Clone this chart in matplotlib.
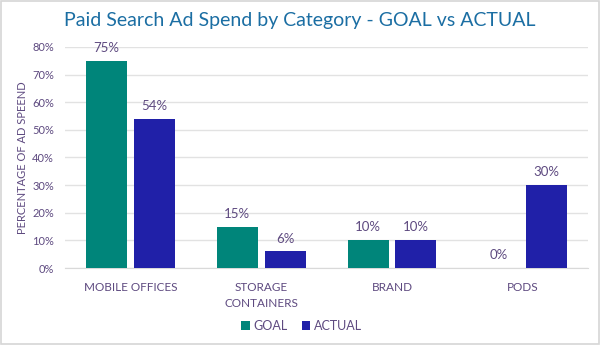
import matplotlib.pyplot as plt
import numpy as np
from matplotlib.patches import Rectangle

categories = ['MOBILE OFFICES', 'STORAGE\nCONTAINERS', 'BRAND', 'PODS']
goal = [75, 15, 10, 0]
actual = [54, 6, 10, 30]
y_ticks = [0, 10, 20, 30, 40, 50, 60, 70, 80]

teal = '#00857A'
navy = '#2020A8'
purple = '#5E4A80'
title_blue = '#1B6EA3'

plt.rcParams['font.family'] = ['Lato', 'DejaVu Sans']

fig = plt.figure(figsize=(6, 3.45), dpi=100)
ax = fig.add_axes([0.1083, 0.223, 0.872, 0.641])

x = np.arange(len(categories))
w = 0.314
off = 0.183
b1 = ax.bar(x - off, goal, w, color=teal, label='GOAL', zorder=3)
b2 = ax.bar(x + off, actual, w, color=navy, label='ACTUAL', zorder=3)

for bars, vals in ((b1, goal), (b2, actual)):
    for bar, v in zip(bars, vals):
        ax.annotate(f'{v}%', (bar.get_x() + bar.get_width() / 2, v),
                    xytext=(0, 5), textcoords='offset points',
                    ha='center', va='bottom', fontsize=9.5, color=purple)

ax.set_xlim(-0.5, len(categories) - 0.5)
ax.set_ylim(0, 80)
ax.set_yticks(y_ticks)
ax.set_yticklabels([f'{t}%' for t in y_ticks], fontsize=8, color=purple)
ax.set_xticks(x)
ax.set_xticklabels(categories, fontsize=8.5, color=purple, linespacing=1.6)
ax.tick_params(axis='x', length=0, pad=10)
ax.tick_params(axis='y', length=0, pad=8)
ax.grid(axis='y', color='#E2E2E2', linewidth=1, zorder=0)
for s in ['top', 'right', 'left']:
    ax.spines[s].set_visible(False)
ax.spines['bottom'].set_color('#D9D9D9')

ax.set_ylabel('PERCENTAGE OF AD SPEEND', fontsize=8, color=purple)
ax.yaxis.set_label_coords(-0.07, 0.5)

fig.text(0.5, 0.94, 'Paid Search Ad Spend by Category - GOAL vs ACTUAL',
         ha='center', va='center', fontsize=14, color=title_blue)

fig.legend(handles=[b1, b2], loc='center', bbox_to_anchor=(0.503, 0.055),
           ncol=2, frameon=False, fontsize=9, labelcolor=purple,
           handlelength=0.7, handleheight=0.7, handletextpad=0.3,
           columnspacing=1.1)

# light frame around the whole chart
fig.patches.append(Rectangle((0.002, 0.003), 0.996, 0.994, transform=fig.transFigure,
                             fill=False, edgecolor='#D6D6D6', linewidth=1.2))

fig.savefig('out.png', dpi=100)
